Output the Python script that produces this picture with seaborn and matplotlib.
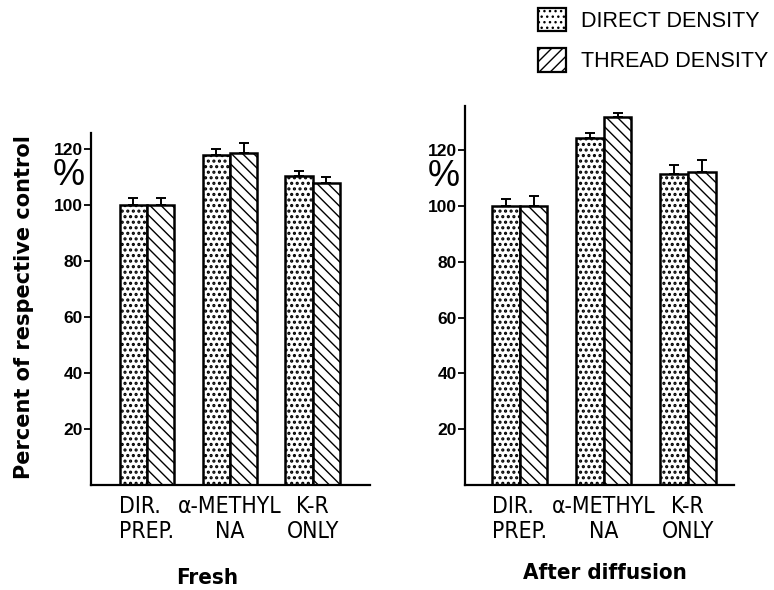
import matplotlib
matplotlib.use("Agg")
import matplotlib.pyplot as plt
from matplotlib import font_manager
from matplotlib.font_manager import FontProperties
from matplotlib.patches import Patch
import seaborn as sns
import pandas as pd

categories = ["DIR.\nPREP.", "\u03b1-METHYL\nNA", "K-R\nONLY"]
series = ["DIRECT DENSITY", "THREAD DENSITY"]
fresh_direct = [100, 118, 110.5]
fresh_thread = [100, 118.5, 108]
fresh_direct_err = [2.4, 2.0, 1.8]
fresh_thread_err = [2.6, 3.7, 2.1]
diff_direct = [100, 124.5, 111.5]
diff_thread = [100, 132, 112]
diff_direct_err = [2.3, 1.7, 3.0]
diff_thread_err = [3.4, 1.4, 4.6]
panel_titles = ["Fresh", "After diffusion"]
yticks = [20, 40, 60, 80, 100, 120]

sns.set_theme(style="ticks")
plt.rcParams["font.family"] = ["Liberation Sans", "DejaVu Sans"]
for k in ["text.color", "axes.labelcolor", "xtick.color", "ytick.color", "axes.edgecolor"]:
    plt.rcParams[k] = "black"
plt.rcParams["hatch.linewidth"] = 1.0
plt.rcParams["hatch.color"] = "black"


def find_condensed(bold):
    best = None
    pref = ["Liberation Sans Narrow", "Noto Sans", "DejaVu Sans", "Open Sans", "Roboto", "Inter", "Lato"]
    for f in font_manager.fontManager.ttflist:
        st = str(f.stretch).lower()
        nm = f.name
        cond = ("condensed" in st) or ("narrow" in nm.lower()) or ("condensed" in nm.lower()) \
            or ("condensed" in f.fname.lower()) or ("narrow" in f.fname.lower())
        if not cond or f.style != "normal":
            continue
        if "extra" in st or "ultra" in st or "extra" in f.fname.lower().split("/")[-1]:
            continue
        w = f.weight if isinstance(f.weight, int) else 400
        if bold and w < 600:
            continue
        if not bold and not (380 <= w <= 520):
            continue
        rank = next((i for i, p in enumerate(pref) if nm.startswith(p)), 99)
        if "semi" in st or "semi" in f.fname.lower():
            rank += 0.5
        if best is None or rank < best[0]:
            best = (rank, f.fname)
    return best[1] if best else None


cond_reg = find_condensed(False)
cond_bold = find_condensed(True)
if cond_reg:
    tick_fp = FontProperties(fname=cond_reg, size=16.5)
else:
    tick_fp = FontProperties(family="Liberation Sans", size=14)
if cond_bold:
    title_fp = FontProperties(fname=cond_bold, size=16)
else:
    title_fp = FontProperties(family="Liberation Sans", weight="bold", size=15)

fig = plt.figure(figsize=(7.74, 5.90), dpi=100)
W, H = 774, 590
axL = fig.add_axes([91 / W, 1 - 485 / H, (370 - 91) / W, (485 - 133) / H])
axR = fig.add_axes([465 / W, 1 - 485 / H, (734 - 465) / W, (485 - 106) / H])

panels = [
    (axL, fresh_direct, fresh_thread, fresh_direct_err, fresh_thread_err, (0, 125.7), (-0.675, 2.69), panel_titles[0], (0.416, -0.235)),
    (axR, diff_direct, diff_thread, diff_direct_err, diff_thread_err, (0, 135.8), (-0.65, 2.55), panel_titles[1], (0.52, -0.205)),
]

for ax, d, t, de, te, ylim, xlim, title, tpos in panels:
    df = pd.DataFrame({
        "cat": categories * 2,
        "series": [series[0]] * 3 + [series[1]] * 3,
        "value": d + t,
    })
    sns.barplot(data=df, x="cat", y="value", hue="series", order=categories,
                hue_order=series, palette=["white", "white"], edgecolor="black",
                linewidth=1.8, width=0.66, gap=0, errorbar=None, legend=False,
                saturation=1, ax=ax)
    bars = [p for p in ax.patches][:6]
    for i, p in enumerate(bars):
        p.set_hatch("..." if i < 3 else "\\\\\\")
        if hasattr(p, "set_hatch_linewidth"):
            p.set_hatch_linewidth(1.5 if i < 3 else 1.0)
    xs = [p.get_x() + p.get_width() / 2 for p in bars]
    ys = [p.get_height() for p in bars]
    errs = de + te
    ax.errorbar(xs, ys, yerr=[[0] * 6, errs], fmt="none", ecolor="black",
                elinewidth=1.4, capsize=3.5, capthick=1.4, zorder=5)
    ax.set_ylim(*ylim)
    ax.set_xlim(*xlim)
    ax.set_yticks(yticks)
    ax.tick_params(axis="y", direction="out", length=5, width=1.3, labelsize=12.5, pad=1)
    for lab in ax.get_yticklabels():
        lab.set_fontweight("bold")
    ax.tick_params(axis="x", length=0, pad=7)
    ax.set_xticks(range(3))
    ax.set_xticklabels(categories, fontproperties=tick_fp, linespacing=1.12)
    for lab in ax.get_xticklabels():
        lab.set_multialignment("left" if lab.get_text().startswith("DIR") else "center")
    for s in ["top", "right"]:
        ax.spines[s].set_visible(False)
    for s in ["left", "bottom"]:
        ax.spines[s].set_linewidth(1.6)
    ax.set_ylabel("")
    ax.set_xlabel(title, fontproperties=title_fp)
    ax.xaxis.set_label_coords(*tpos)
    ax.text(-0.08, 110.5, "%", transform=ax.get_yaxis_transform(), ha="center",
            va="center", fontsize=26)

axL.set_ylabel("Percent of respective control", fontsize=15, fontfamily="DejaVu Sans",
               fontweight="bold")
axL.yaxis.set_label_coords(-0.205, 0.505)

leg_direct = Patch(facecolor="white", edgecolor="black", linewidth=1.6, hatch="...")
if hasattr(leg_direct, "set_hatch_linewidth"):
    leg_direct.set_hatch_linewidth(1.5)
handles = [leg_direct,
           Patch(facecolor="white", edgecolor="black", linewidth=1.6, hatch="///")]
fig.legend(handles, series, loc="upper left", bbox_to_anchor=(538 / W, 1 - 8 / H),
           frameon=False, fontsize=15.5, handlelength=1.3, handleheight=1.3,
           handletextpad=0.7, labelspacing=0.75, borderpad=0, borderaxespad=0)

fig.savefig("out.png", dpi=100)
